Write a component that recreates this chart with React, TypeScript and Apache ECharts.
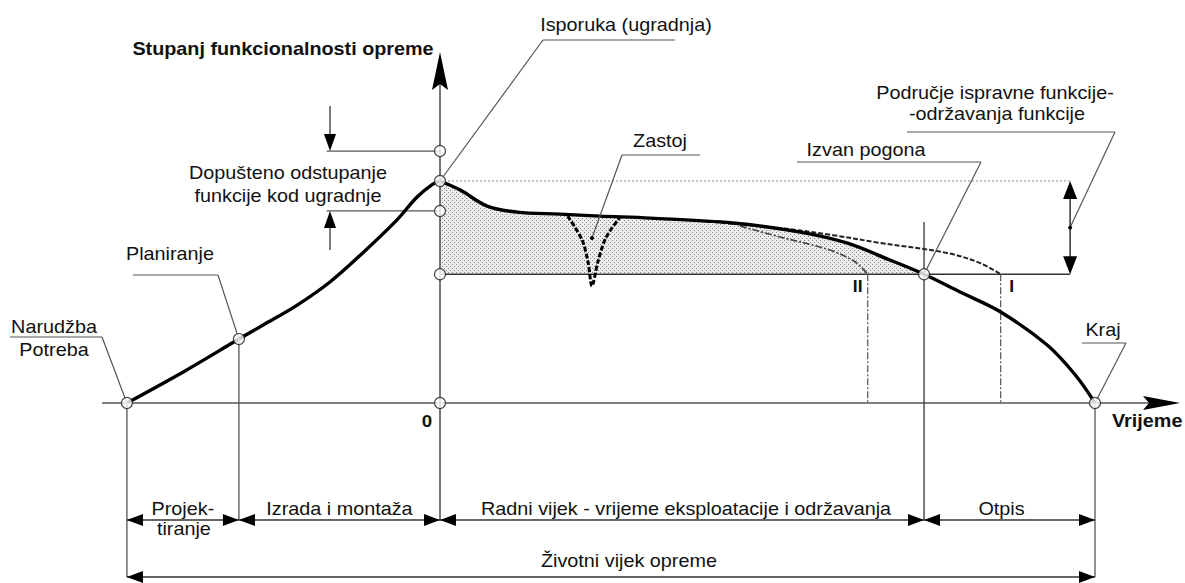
import React, { useEffect, useRef } from "react";
import * as echarts from "echarts";

// x: time (0 = delivery / installation, 100 = end of life)
// y: degree of functionality (100 = functionality at delivery)
const risingCurve: number[][] = [
  [-47.8, 0], [-39.2, 14.0], [-30.7, 28.8], [-27.0, 35.1], [-21.8, 44.1],
  [-16.8, 54.5], [-11.8, 67.6], [-6.6, 82.4], [-3.5, 92.8], [-1.1, 98.6], [0, 100],
];
const decliningCurve: number[][] = [
  [0, 100], [3.1, 95.9], [7.2, 88.7], [11.8, 86.0], [18.3, 85.1], [24.4, 84.2],
  [32.1, 83.3], [44.7, 81.1], [55.0, 77.0], [62.1, 72.1], [68.7, 64.4], [73.9, 58.0],
  [79.4, 50.0], [85.6, 41.0], [92.7, 26.1], [97.0, 12.6], [100, 0],
];
const curveI: number[][] = [
  [39.7, 82.0], [51.9, 78.8], [60.0, 75.6], [67.2, 72.1], [77.4, 67.6], [82.4, 63.1], [85.6, 58.0],
];
const curveII: number[][] = [
  [45.8, 79.7], [51.9, 74.8], [59.5, 68.9], [63.4, 63.5], [65.3, 58.0],
];
const downtimeDip: number[][] = [
  [19.5, 84.2], [21.7, 73.4], [22.6, 63.5], [23.2, 52.7], [24.1, 63.5], [25.3, 74.3], [27.5, 83.8],
];
const milestones: number[] = [-47.8, -30.7, 0, 73.9, 100]; // Narudžba, Planiranje, Isporuka, Izvan pogona, Kraj
const milestoneLevels: number[] = [0, 28.8, 100, 58.0, 0];
const peakLevel = 100;
const toleranceUpper = 113.5;
const toleranceLower = 86.5;
const thresholdLevel = 58.0;
const limitII = 65.3;
const limitI = 85.6;
const regionMarkerX = 96.2;
const toleranceStartX = -17.3;
const zastojAnchor: number[] = [23.2, 74.3];
const phaseLabels: string[] = [
  "Projek-\ntiranje",
  "Izrada i montaža",
  "Radni vijek - vrijeme eksploatacije i održavanja",
  "Otpis",
];
const lifeLabel = "Životni vijek opreme";

function makePattern() {
  const c = document.createElement("canvas");
  c.width = 4;
  c.height = 4;
  const g = c.getContext("2d")!;
  g.clearRect(0, 0, 4, 4);
  g.fillStyle = "#8a8a8a";
  g.fillRect(0, 0, 1, 1);
  g.fillRect(2, 2, 1, 1);
  return c;
}

export default function App() {
  const ref = useRef<HTMLDivElement>(null);

  useEffect(() => {
    const el = ref.current!;
    const chart = echarts.init(el, null, { renderer: "svg" });
    const X0 = 440, Y0 = 403, KX = 6.55, KY = 2.22, W = 1185, H = 583;
    const FONT = "Liberation Sans, Arial, sans-serif";
    const outOfService = milestones[3];
    const shadeData = decliningCurve.filter((p) => p[0] <= outOfService + 1e-6);
    const SMOOTH = 0.35;
    let pattern: any = null;
    try {
      pattern = { image: makePattern(), repeat: "repeat" };
    } catch (e) {
      pattern = null;
    }

    const shadePolygon = (fill: any) => ({
      type: "custom", data: [[0, thresholdLevel]], z: 1, silent: true, clip: false,
      renderItem: (_p: any, api: any) => {
        const top = shadeData.map((p) => api.coord(p));
        const end = api.coord([shadeData[shadeData.length - 1][0], thresholdLevel]);
        const start = api.coord([shadeData[0][0], thresholdLevel]);
        return { type: "polygon", shape: { points: [...top, end, start] }, style: { fill } };
      },
    });

    const series: any[] = [shadePolygon("#ececec")];
    if (pattern) series.push(shadePolygon(pattern));

    series.push(
      {
        type: "line", data: [[0, peakLevel], [regionMarkerX, peakLevel]], symbol: "none", z: 2,
        lineStyle: { color: "#888", width: 1.2, type: [2, 2] }, silent: true,
      },
      {
        type: "line", data: [[0, thresholdLevel], [regionMarkerX, thresholdLevel]], symbol: "none", z: 2,
        lineStyle: { color: "#333", width: 1.3 }, silent: true,
      },
      {
        type: "line", data: [[toleranceStartX, toleranceUpper], [0, toleranceUpper]], symbol: "none", z: 2,
        lineStyle: { color: "#555", width: 1.3 }, silent: true,
      },
      {
        type: "line", data: [[toleranceStartX, toleranceLower], [0, toleranceLower]], symbol: "none", z: 2,
        lineStyle: { color: "#555", width: 1.3 }, silent: true,
      },
      {
        type: "line", data: [[limitII, thresholdLevel], [limitII, 0]], symbol: "none", z: 2,
        lineStyle: { color: "#555", width: 1.2, type: [7, 2, 2, 2] }, silent: true,
      },
      {
        type: "line", data: [[limitI, thresholdLevel], [limitI, 0]], symbol: "none", z: 2,
        lineStyle: { color: "#555", width: 1.2, type: [7, 2, 2, 2] }, silent: true,
      },
      {
        type: "line", data: curveII, smooth: SMOOTH, symbol: "none", z: 3,
        lineStyle: { color: "#444", width: 1.6, type: [7, 2, 2, 2] }, silent: true,
      },
      {
        type: "line", data: curveI, smooth: SMOOTH, symbol: "none", z: 3,
        lineStyle: { color: "#222", width: 2, type: [5, 2] }, silent: true,
      },
      {
        type: "line", data: downtimeDip, smooth: 0.3, symbol: "none", z: 4,
        lineStyle: { color: "#000", width: 3, type: [5, 2] }, silent: true,
      },
      {
        type: "line", data: risingCurve, smooth: SMOOTH, symbol: "none", z: 5,
        lineStyle: { color: "#000", width: 3.4 }, silent: true,
      },
      {
        type: "line", data: decliningCurve, smooth: SMOOTH, symbol: "none", z: 5,
        lineStyle: { color: "#000", width: 3.4 }, silent: true,
      }
    );

    chart.setOption({
      animation: false,
      backgroundColor: "#ffffff",
      grid: { left: 0, right: 0, top: 0, bottom: 0, containLabel: false },
      xAxis: { type: "value", min: -X0 / KX, max: (W - X0) / KX, show: false },
      yAxis: { type: "value", min: -(H - Y0) / KY, max: Y0 / KY, show: false },
      series,
    });

    const P = (x: number, y: number) => chart.convertToPixel({ gridIndex: 0 }, [x, y]) as number[];
    const els: any[] = [];
    const line = (x1: number, y1: number, x2: number, y2: number, color = "#555", w = 1.2, dash?: number[]) =>
      els.push({
        type: "line", silent: true, z: 6,
        shape: { x1, y1, x2, y2 },
        style: { stroke: color, lineWidth: w, lineDash: dash },
      });
    const arrow = (tx: number, ty: number, dx: number, dy: number, len: number, half: number, notch = 0) => {
      const bx = tx - dx * len, by = ty - dy * len;
      const nx = -dy, ny = dx;
      const pts = notch
        ? [[tx, ty], [bx + nx * half, by + ny * half], [tx - dx * (len - notch), ty - dy * (len - notch)], [bx - nx * half, by - ny * half]]
        : [[tx, ty], [bx + nx * half, by + ny * half], [bx - nx * half, by - ny * half]];
      els.push({ type: "polygon", silent: true, z: 7, shape: { points: pts }, style: { fill: "#000" } });
    };
    const text = (x: number, y: number, s: string, opt: any = {}) =>
      els.push({
        type: "text", silent: true, z: 8, x, y, scaleX: 1.1,
        style: {
          text: s, fill: "#111", fontFamily: FONT, fontSize: opt.size || 18,
          fontWeight: opt.bold ? "bold" : "normal", align: opt.align || "center",
          verticalAlign: "middle", lineHeight: opt.lh || 22,
        },
      });
    const dot = (x: number, y: number, r = 2) =>
      els.push({ type: "circle", silent: true, z: 8, shape: { cx: x, cy: y, r }, style: { fill: "#000" } });

    const o = P(0, 0);
    const row1 = 520, row2 = 577;
    const mx = milestones.map((m) => P(m, 0)[0]);
    const my = milestones.map((m, i) => P(m, milestoneLevels[i])[1]);

    // axes
    line(102, o[1], 1160, o[1], "#555", 1.6);
    arrow(1180, o[1], 1, 0, 37, 7, 6);
    line(o[0], 80, o[0], row1, "#555", 1.6);
    arrow(o[0], 52, 0, -1, 38, 8, 6);

    // extension lines
    line(mx[0], my[0], mx[0], row2, "#555", 1.3);
    line(mx[1], my[1], mx[1], row1, "#555", 1.3);
    line(mx[3], 222, mx[3], row1, "#333", 1.3);
    line(mx[4], my[4], mx[4], row2, "#555", 1.3);

    // dimension rows
    line(mx[0], row1, mx[4], row1, "#333", 1.4);
    for (let i = 0; i < milestones.length - 1; i++) {
      arrow(mx[i], row1, -1, 0, 16, 6);
      arrow(mx[i + 1], row1, 1, 0, 16, 6);
    }
    line(mx[0], row2, mx[4], row2, "#333", 1.4);
    arrow(mx[0], row2, -1, 0, 16, 6);
    arrow(mx[4], row2, 1, 0, 16, 6);

    // phase labels
    const c01 = (mx[0] + mx[1]) / 2;
    const [p1a, p1b] = phaseLabels[0].split("\n");
    text(c01, 509, p1a);
    text(c01 + 1, 529, p1b);
    text((mx[1] + mx[2]) / 2, 509, phaseLabels[1]);
    text((mx[2] + mx[3]) / 2 + 4, 509, phaseLabels[2]);
    text((mx[3] + mx[4]) / 2 - 8, 509, phaseLabels[3]);
    text((mx[0] + mx[4]) / 2 + 18, 561, lifeLabel);

    // tolerance arrows
    const tu = P(0, toleranceUpper), tl = P(0, toleranceLower);
    line(330, 106, 330, tu[1] - 12, "#333", 1.3);
    arrow(330, tu[1], 0, 1, 17, 6);
    line(330, 250, 330, tl[1] + 12, "#333", 1.3);
    arrow(330, tl[1], 0, -1, 17, 6);
    text(288, 173, "Dopušteno odstupanje");
    text(288, 196, "funkcije kod ugradnje");

    // region double arrow
    const rTop = P(regionMarkerX, peakLevel), rBot = P(regionMarkerX, thresholdLevel);
    line(rTop[0], rTop[1] + 10, rBot[0], rBot[1] - 10, "#222", 1.4);
    arrow(rTop[0], rTop[1], 0, -1, 18, 7);
    arrow(rBot[0], rBot[1], 0, 1, 18, 7);
    const rMid = P(regionMarkerX, (peakLevel + thresholdLevel) / 2);
    dot(rMid[0], rMid[1]);

    // leaders
    const pk = P(0, peakLevel);
    line(543, 40, 675, 40); line(543, 40, pk[0], pk[1]);
    text(626, 25, "Isporuka (ugradnja)");
    const za = P(zastojAnchor[0], zastojAnchor[1]);
    line(622, 155, 700, 155); line(622, 155, za[0], za[1]); dot(za[0], za[1]);
    text(660, 141, "Zastoj");
    line(797, 162, 981, 162); line(981, 162, mx[3], my[3]);
    text(866, 150, "Izvan pogona");
    line(907, 132, 1115, 132); line(1115, 132, rMid[0], rMid[1]);
    text(995, 93, "Područje ispravne funkcije-");
    text(997, 114, "-održavanja funkcije");
    line(1082, 343, 1126, 343); line(1126, 343, mx[4], my[4]);
    text(1103, 330, "Kraj");
    line(133, 275, 218, 275); line(218, 275, mx[1], my[1]);
    text(170, 254, "Planiranje");
    line(10, 337, 102, 337); line(102, 337, mx[0], my[0]);
    text(54, 327, "Narudžba");
    text(54, 350, "Potreba");

    // bold labels
    text(283, 49, "Stupanj funkcionalnosti opreme", { bold: true });
    text(427, 421, "0", { bold: true, size: 17 });
    text(1112, 421, "Vrijeme", { bold: true, align: "left" });
    const pII = P(limitII, thresholdLevel), pI = P(limitI, thresholdLevel);
    text(pII[0] - 10, 287, "II", { bold: true, size: 16 });
    text(pI[0] + 11, 287, "I", { bold: true, size: 16 });

    // markers (scatter on top)
    const markerData: number[][] = [
      ...milestones.map((m, i) => [m, milestoneLevels[i]]),
      [0, toleranceUpper], [0, toleranceLower], [0, thresholdLevel], [0, 0],
    ];

    chart.setOption({
      graphic: { elements: els },
      series: [
        ...series.map(() => ({})),
        {
          type: "scatter", data: markerData, symbol: "circle", symbolSize: 11, z: 20, silent: true,
          itemStyle: { color: "#fff", borderColor: "#222", borderWidth: 1.2 },
        },
      ],
    });

    return () => chart.dispose();
  }, []);

  return (
    <div
      ref={ref}
      style={{ position: "fixed", left: 0, top: 0, width: 1185, height: 583, background: "#fff" }}
    />
  );
}
